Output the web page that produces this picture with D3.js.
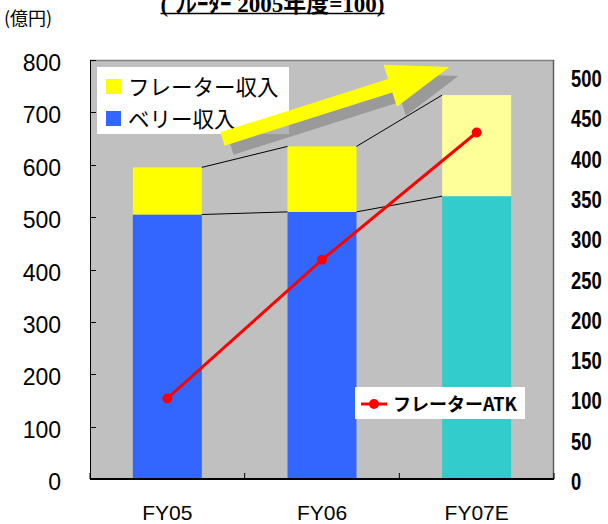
<!DOCTYPE html>
<html>
<head>
<meta charset="utf-8">
<script src="https://cdn.jsdelivr.net/npm/d3@7"></script>
<style>
  html, body { margin: 0; padding: 0; background: #ffffff; }
  svg { display: block; }
</style>
</head>
<body>
<svg id="chart" width="608" height="524"></svg>
<script>
// Revenue by fiscal year (億円), stacked: belly + freighter
const categories = ["FY05", "FY06", "FY07E"];
const bellyRevenue = [505, 510, 540];
const freighterRevenue = [90, 125, 193];
// Freighter ATK index (FY2005 = 100), right axis
const freighterATK = [100, 272, 430];
const leftTicks = [0, 100, 200, 300, 400, 500, 600, 700, 800];
const rightTicks = [0, 50, 100, 150, 200, 250, 300, 350, 400, 450, 500];

const bellyColors = ["#3366FF", "#3366FF", "#33CCCC"];
const freighterColors = ["#FFFF00", "#FFFF00", "#FFFF99"];

const svg = d3.select("#chart");
const plot = { left: 90, right: 554, top: 60, bottom: 479 };

const x = d3.scaleBand()
  .domain(categories)
  .range([plot.left, plot.right])
  .paddingInner(0.554)
  .paddingOuter(0.277);
const y = d3.scaleLinear().domain([0, 800]).range([plot.bottom, plot.top]);
const y2 = d3.scaleLinear().domain([0, 520]).range([plot.bottom, plot.top]);

const jp = "'Noto Sans CJK JP', 'Noto Sans', sans-serif";
const num = "'Liberation Sans', Arial, sans-serif";

// Title (unit base), sits at the very top edge
const title = svg.append("text")
  .attr("x", 272.5).attr("y", 11.5)
  .attr("text-anchor", "middle")
  .attr("font-family", "'Liberation Serif', 'Times New Roman', 'Noto Sans CJK JP', serif")
  .attr("font-weight", "bold")
  .attr("font-size", 23)
  .attr("fill", "#000")
  .text("( ﾌﾚｰﾀｰ 2005年度=100)");
const tb = title.node().getBBox();
svg.append("line")
  .attr("x1", tb.x).attr("x2", tb.x + tb.width)
  .attr("y1", 13.5).attr("y2", 13.5)
  .attr("stroke", "#000").attr("stroke-width", 1.5);

// Unit label
svg.append("text")
  .attr("x", 4).attr("y", 24.5)
  .attr("font-family", jp).attr("font-size", 18).attr("fill", "#000")
  .text("(億円)");

// Plot background and frame
svg.append("rect")
  .attr("x", plot.left).attr("y", plot.top)
  .attr("width", plot.right - plot.left).attr("height", plot.bottom - plot.top)
  .attr("fill", "#C0C0C0");
svg.append("line")
  .attr("x1", plot.left).attr("x2", plot.right)
  .attr("y1", plot.top + 0.5).attr("y2", plot.top + 0.5)
  .attr("stroke", "#808080").attr("stroke-width", 1.5);
svg.append("line")
  .attr("x1", plot.right - 0.5).attr("x2", plot.right - 0.5)
  .attr("y1", plot.top).attr("y2", plot.bottom)
  .attr("stroke", "#606060").attr("stroke-width", 1.5);

// Stacked bars
const stackData = categories.map((c, i) => ({
  cat: c, belly: bellyRevenue[i], freighter: freighterRevenue[i], i
}));
const bars = svg.append("g");
bars.selectAll("rect.belly").data(stackData).join("rect")
  .attr("class", "belly")
  .attr("x", d => x(d.cat)).attr("width", x.bandwidth())
  .attr("y", d => y(d.belly)).attr("height", d => y(0) - y(d.belly))
  .attr("fill", d => bellyColors[d.i]);
bars.selectAll("rect.freighter").data(stackData).join("rect")
  .attr("class", "freighter")
  .attr("x", d => x(d.cat)).attr("width", x.bandwidth())
  .attr("y", d => y(d.belly + d.freighter)).attr("height", d => y(d.belly) - y(d.belly + d.freighter))
  .attr("fill", d => freighterColors[d.i]);

// Series lines linking the tops of adjacent bars
const series = svg.append("g").attr("stroke", "#000").attr("stroke-width", 1);
for (let i = 0; i < categories.length - 1; i++) {
  const a = stackData[i], b = stackData[i + 1];
  const xa = x(a.cat) + x.bandwidth(), xb = x(b.cat);
  series.append("line")
    .attr("x1", xa).attr("y1", y(a.belly)).attr("x2", xb).attr("y2", y(b.belly));
  series.append("line")
    .attr("x1", xa).attr("y1", y(a.belly + a.freighter))
    .attr("x2", xb).attr("y2", y(b.belly + b.freighter));
}

// Left axis with inward ticks
svg.append("line")
  .attr("x1", plot.left + 0.5).attr("x2", plot.left + 0.5)
  .attr("y1", plot.top).attr("y2", plot.bottom)
  .attr("stroke", "#000").attr("stroke-width", 1);
svg.append("g").selectAll("line").data(leftTicks).join("line")
  .attr("x1", plot.left).attr("x2", plot.left + 6)
  .attr("y1", d => Math.round(y(d)) + 0.5).attr("y2", d => Math.round(y(d)) + 0.5)
  .attr("stroke", "#000");
svg.append("g").selectAll("text").data(leftTicks).join("text")
  .attr("x", 61).attr("y", d => y(d) + 11)
  .attr("text-anchor", "end")
  .attr("font-family", num).attr("font-size", 23).attr("fill", "#000")
  .text(d => d);

// Right axis labels (bold, horizontally condensed)
svg.append("g").selectAll("text").data(rightTicks).join("text")
  .attr("transform", d => `translate(571,${y2(d) + 11}) scale(0.8,1)`)
  .attr("text-anchor", "start")
  .attr("font-family", num)
  .attr("font-weight", "bold").attr("font-size", 23).attr("fill", "#000")
  .text(d => d);

// Category axis
svg.append("line")
  .attr("x1", plot.left).attr("x2", plot.right)
  .attr("y1", plot.bottom).attr("y2", plot.bottom)
  .attr("stroke", "#000").attr("stroke-width", 2);
const step = x.step();
const boundaries = categories.map(c => x(c) - step * x.paddingInner() / 2).concat([plot.right]);
svg.append("g").selectAll("line").data(boundaries).join("line")
  .attr("x1", d => d).attr("x2", d => d)
  .attr("y1", plot.bottom - 6).attr("y2", plot.bottom)
  .attr("stroke", "#000").attr("stroke-width", 1);
svg.append("g").selectAll("text").data(categories).join("text")
  .attr("x", d => x(d) + x.bandwidth() / 2).attr("y", 520)
  .attr("text-anchor", "middle")
  .attr("font-family", num).attr("font-size", 21).attr("fill", "#000")
  .text(d => d);

// Freighter ATK line (right axis)
const cx = d => x(d) + x.bandwidth() / 2;
const atk = categories.map((c, i) => ({ cat: c, v: freighterATK[i] }));
svg.append("path")
  .datum(atk)
  .attr("fill", "none").attr("stroke", "#FF0000").attr("stroke-width", 3)
  .attr("d", d3.line().x(d => cx(d.cat)).y(d => y2(d.v)));
svg.append("g").selectAll("circle").data(atk).join("circle")
  .attr("cx", d => cx(d.cat)).attr("cy", d => y2(d.v)).attr("r", 5)
  .attr("fill", "#FF0000");

// Revenue legend
const lg = svg.append("g");
lg.append("rect").attr("x", 97).attr("y", 67).attr("width", 192).attr("height", 67).attr("fill", "#fff");
const legendItems = [
  { label: "フレーター収入", color: "#FFFF00", cy: 86.5 },
  { label: "ベリー収入", color: "#3366FF", cy: 118.5 }
];
legendItems.forEach(it => {
  lg.append("rect").attr("x", 106).attr("y", it.cy - 7.5).attr("width", 15).attr("height", 15).attr("fill", it.color);
  lg.append("text").attr("x", 128).attr("y", it.cy + 8)
    .attr("font-family", jp).attr("font-size", 21.5).attr("fill", "#000")
    .text(it.label);
});

// Growth arrow with drop shadow
const arrowPts = [[0, -7], [176, -7], [176, -22], [238, 0], [176, 22], [176, 7], [0, 7]];
const arrowPath = "M" + arrowPts.map(p => p.join(",")).join("L") + "Z";
svg.append("path")
  .attr("d", arrowPath)
  .attr("transform", "translate(231.5,148) rotate(-17.6)")
  .attr("fill", "#808080").attr("fill-opacity", 0.6);
svg.append("path")
  .attr("d", arrowPath)
  .attr("transform", "translate(222.5,139) rotate(-17.6)")
  .attr("fill", "#FFFF00");

// ATK legend
const lg2 = svg.append("g");
lg2.append("rect").attr("x", 355).attr("y", 387).attr("width", 170).attr("height", 32).attr("fill", "#fff");
lg2.append("line").attr("x1", 361).attr("x2", 387).attr("y1", 404).attr("y2", 404)
  .attr("stroke", "#FF0000").attr("stroke-width", 3);
lg2.append("circle").attr("cx", 374).attr("cy", 404).attr("r", 5).attr("fill", "#FF0000");
lg2.append("text").attr("x", 393).attr("y", 411)
  .attr("font-family", jp).attr("font-weight", "bold").attr("font-size", 18).attr("fill", "#000")
  .text("フレーターATK");
</script>
</body>
</html>
